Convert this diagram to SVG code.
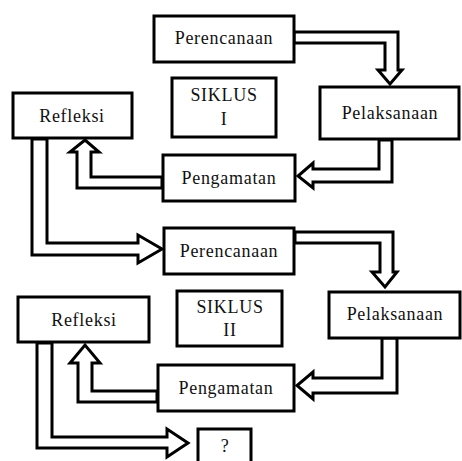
<svg xmlns="http://www.w3.org/2000/svg" width="462" height="461" viewBox="0 0 462 461">
<style>
.box{fill:#fff;stroke:#000;stroke-width:3}
.arr{fill:#fff;stroke:#000;stroke-width:3;stroke-linejoin:miter}
text{font-family:"Liberation Serif","Times New Roman",serif;font-size:18px;letter-spacing:0.7px;fill:#111;text-anchor:middle}
</style>
<rect width="462" height="461" fill="#fff"/>
<g id="connectors">
<polygon class="arr" points="294,32 398,32 398,70 402,70 390,84 378,70 385,70 385,43 294,43"/>
<polygon class="arr" points="379,140 379,169 313,169 313,163 298,176 313,188 313,182 392,182 392,140"/>
<polygon class="arr" points="162,177 91,177 91,152 99,152 85,140 70,152 77,152 77,188 162,188"/>
<polygon class="arr" points="47,139 47,243 138,243 138,235 162,249 138,263 138,255 32,255 32,139"/>
<polygon class="arr" points="295,232 393,232 393,272 397,272 385,287 372,272 380,272 380,243 295,243"/>
<polygon class="arr" points="382,338 382,378 313,378 313,372 297,385.5 313,399 313,393 397,393 397,338"/>
<polygon class="arr" points="157,391 92,391 92,363 100,363 85,345 70,363 78,363 78,402 157,402"/>
<polygon class="arr" points="52,343 52,437 167,437 167,429 188,443 167,457 167,448 37,448 37,343"/>
</g>
<g id="perencanaan1"><rect class="box" x="154" y="16" width="140" height="46"/><text x="224" y="44">Perencanaan</text></g>
<g id="siklus1"><rect class="box" x="172" y="78" width="104" height="59"/><text x="224" y="101">SIKLUS</text><text x="224" y="125">I</text></g>
<g id="pelaksanaan1"><rect class="box" x="320" y="87" width="139" height="52"/><text x="390" y="119">Pelaksanaan</text></g>
<g id="refleksi1"><rect class="box" x="13" y="93" width="119" height="45"/><text x="72" y="122">Refleksi</text></g>
<g id="pengamatan1"><rect class="box" x="163" y="155" width="132" height="46"/><text x="229" y="184">Pengamatan</text></g>
<g id="perencanaan2"><rect class="box" x="164" y="228" width="130" height="46"/><text x="229" y="257">Perencanaan</text></g>
<g id="siklus2"><rect class="box" x="177" y="291" width="105" height="55"/><text x="230" y="313">SIKLUS</text><text x="230" y="336">II</text></g>
<g id="pelaksanaan2"><rect class="box" x="329" y="292" width="131" height="46"/><text x="395" y="320">Pelaksanaan</text></g>
<g id="refleksi2"><rect class="box" x="18" y="297" width="131" height="45"/><text x="84" y="326">Refleksi</text></g>
<g id="pengamatan2"><rect class="box" x="158" y="365" width="136" height="46"/><text x="226" y="394">Pengamatan</text></g>
<g id="question"><rect class="box" x="198" y="429" width="53" height="40"/><text x="225" y="452">?</text></g>
</svg>
